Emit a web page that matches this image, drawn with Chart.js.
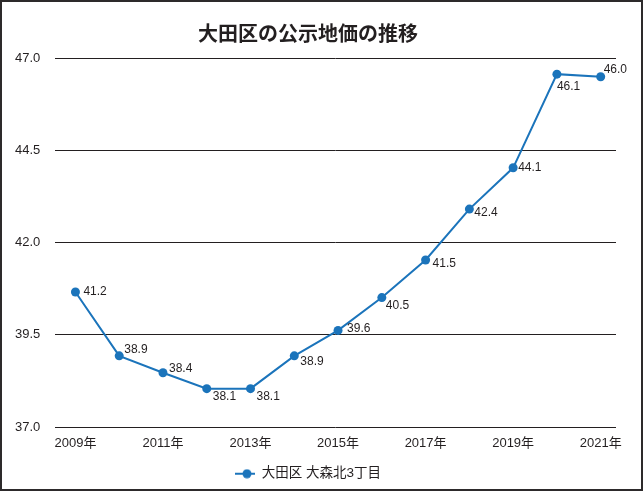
<!DOCTYPE html>
<html>
<head>
<meta charset="utf-8">
<script src="https://cdn.jsdelivr.net/npm/chart.js@4"></script>
<style>
	body { margin: 0; background: #fff; }
	#wrap { position: relative; width: 644px; height: 492px; }
	#frame {
		position: absolute; left: 0; top: 0; width: 643px; height: 491px;
		border: 2px solid #2d2a2b; box-sizing: border-box; pointer-events: none;
	}
</style>
</head>
<body>
<div id="wrap">
	<canvas id="myChartChika"></canvas>
	<div id="frame"></div>
</div>
<script>
// 大田区 大森北3丁目 公示地価
var years = [2009, 2010, 2011, 2012, 2013, 2014, 2015, 2016, 2017, 2018, 2019, 2020, 2021];
var prices = [40.66, 38.93, 38.47, 38.04, 38.04, 38.93, 39.62, 40.51, 41.53, 42.91, 44.03, 46.57, 46.5];
var priceText = ['41.2', '38.9', '38.4', '38.1', '38.1', '38.9', '39.6', '40.5', '41.5', '42.4', '44.1', '46.1', '46.0'];
var tickYears = [2009, 2011, 2013, 2015, 2017, 2019, 2021];
var yTicks = [37.0, 39.5, 42.0, 44.5, 47.0];
var seriesName = '大田区 大森北3丁目';
var chartTitle = '大田区の公示地価の推移';

// where each value label sits relative to its point
var labelOffsets = [
	[8, 0], [5, -6], [6, -4], [6, 8], [6, 8], [6, 6], [9, -2],
	[4, 8], [7, 4], [5, 4], [5, 0], [0, 13], [3, -7],
];

var blue = '#1b74bb';
var ink = '#231f20';
var fontFam = '"Liberation Sans", "Noto Sans CJK JP", sans-serif';

// legend marker: line with a dot
var legendMark = document.createElement('canvas');
legendMark.width = 20;
legendMark.height = 10;
var g = legendMark.getContext('2d');
g.strokeStyle = blue;
g.lineWidth = 2;
g.beginPath();
g.moveTo(0, 5);
g.lineTo(20, 5);
g.stroke();
g.fillStyle = blue;
g.beginPath();
g.arc(12, 5, 4.5, 0, Math.PI * 2);
g.fill();

var valueLabels = {
	id: 'valueLabels',
	afterDatasetsDraw: function (chart) {
		var ctx = chart.ctx;
		var meta = chart.getDatasetMeta(0);
		ctx.save();
		ctx.font = '12px ' + fontFam;
		ctx.fillStyle = ink;
		ctx.textAlign = 'left';
		ctx.textBaseline = 'middle';
		meta.data.forEach(function (pt, i) {
			ctx.fillText(priceText[i], pt.x + labelOffsets[i][0], pt.y + labelOffsets[i][1]);
		});
		ctx.restore();
	},
};

var ctx = document.getElementById('myChartChika');
var myChart = new Chart(ctx, {
	type: 'line',
	data: {
		datasets: [
			{
				label: seriesName,
				data: years.map(function (y, i) { return { x: y, y: prices[i] }; }),
				borderColor: blue,
				backgroundColor: blue,
				borderWidth: 2,
				pointRadius: 4.5,
				pointHoverRadius: 4.5,
				pointBorderWidth: 0,
				tension: 0,
			},
		],
	},
	options: {
		responsive: true,
		maintainAspectRatio: false,
		animation: false,
		layout: { padding: { left: 0, right: 28, top: 0, bottom: 1.5 } },
		plugins: {
			title: {
				display: true,
				text: chartTitle,
				color: ink,
				font: { family: fontFam, size: 20, weight: 'bold' },
				padding: { top: 23, bottom: 11.3 },
			},
			legend: {
				position: 'bottom',
				labels: {
					usePointStyle: true,
					pointStyle: legendMark,
					pointStyleWidth: 20,
					color: ink,
					font: { family: fontFam, size: 13.5 },
					padding: 6.4,
				},
			},
			tooltip: { enabled: false },
		},
		scales: {
			x: {
				type: 'linear',
				min: 2008.54,
				max: 2021.35,
				afterBuildTicks: function (axis) {
					axis.ticks = tickYears.map(function (v) { return { value: v }; });
				},
				grid: { display: false, drawTicks: false },
				border: { display: false },
				ticks: {
					color: ink,
					padding: 9,
					maxRotation: 0,
					autoSkip: false,
					font: { family: fontFam, size: 13 },
					callback: function (v) { return v + '年'; },
				},
			},
			y: {
				min: 37,
				max: 47,
				afterBuildTicks: function (axis) {
					axis.ticks = yTicks.map(function (v) { return { value: v }; });
				},
				grid: { color: ink, lineWidth: 1, drawTicks: false },
				border: { display: false },
				ticks: {
					color: ink,
					padding: 15,
					font: { family: fontFam, size: 13 },
					callback: function (v) { return v.toFixed(1); },
				},
			},
		},
	},
	plugins: [valueLabels],
});
</script>
</body>
</html>
